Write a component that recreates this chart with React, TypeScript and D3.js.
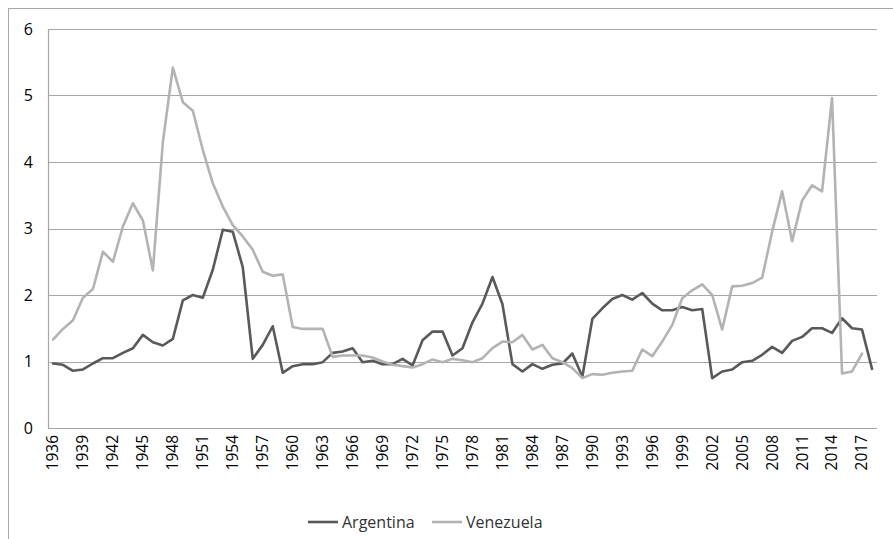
import React from "react";
import * as d3 from "d3";

const years: number[] = d3.range(1936, 2019);

const argentina: number[] = [
  0.97, 0.95, 0.86, 0.88, 0.97, 1.05, 1.05, 1.13, 1.2, 1.4,
  1.29, 1.24, 1.34, 1.92, 2.0, 1.96, 2.38, 2.98, 2.95, 2.42,
  1.04, 1.25, 1.53, 0.83, 0.93, 0.96, 0.96, 0.99, 1.13, 1.15,
  1.2, 0.99, 1.01, 0.96, 0.96, 1.04, 0.94, 1.32, 1.45, 1.45,
  1.09, 1.2, 1.59, 1.87, 2.27, 1.86, 0.96, 0.85, 0.96, 0.89,
  0.95, 0.97, 1.12, 0.77, 1.64, 1.8, 1.94, 2.0, 1.93, 2.03,
  1.87, 1.77, 1.77, 1.82, 1.77, 1.79, 0.75, 0.85, 0.88, 0.99,
  1.01, 1.1, 1.22, 1.13, 1.31, 1.37, 1.5, 1.5, 1.43, 1.65,
  1.5, 1.48, 0.89,
];

const venezuela: (number | null)[] = [
  1.33, 1.49, 1.62, 1.96, 2.09, 2.65, 2.5, 3.03, 3.38, 3.12,
  2.37, 4.3, 5.42, 4.9, 4.77, 4.18, 3.68, 3.33, 3.05, 2.88,
  2.68, 2.35, 2.29, 2.31, 1.52, 1.49, 1.49, 1.49, 1.07, 1.09,
  1.09, 1.09, 1.06, 1.0, 0.95, 0.93, 0.91, 0.96, 1.03, 0.99,
  1.04, 1.02, 0.99, 1.05, 1.2, 1.3, 1.29, 1.4, 1.18, 1.25,
  1.05, 0.99, 0.9, 0.75, 0.81, 0.8, 0.83, 0.85, 0.86, 1.18,
  1.08, 1.3, 1.55, 1.95, 2.07, 2.16, 2.0, 1.48, 2.13, 2.14,
  2.18, 2.26, 2.95, 3.56, 2.81, 3.42, 3.65, 3.56, 4.96, 0.82,
  0.85, 1.12, null,
];

const yTicks: number[] = [0, 1, 2, 3, 4, 5, 6];
const xTickYears: number[] = d3.range(1936, 2019, 3);

const seriesNames = ["Argentina", "Venezuela"];
const seriesColors = ["#595959", "#b3b3b3"];

const W = 893;
const H = 539;
const left = 48;
const right = 877;
const top = 29;
const bottom = 428;
const FONT = "'Open Sans', 'DejaVu Sans', sans-serif";

export default function App() {
  const x = d3
    .scaleBand<number>()
    .domain(years)
    .range([left, right]);
  const y = d3.scaleLinear().domain([0, 6]).range([bottom, top]);
  const cx = (yr: number) => (x(yr) as number) + x.bandwidth() / 2;

  const line = d3
    .line<number | null>()
    .defined((d) => d !== null)
    .x((_, i) => cx(years[i]))
    .y((d) => y(d as number));

  const data = [argentina, venezuela];

  return (
    <svg
      width={W}
      height={H}
      style={{ position: "absolute", left: 0, top: 0, background: "#fff" }}
    >
      <rect x={8.5} y={8.5} width={W} height={H} fill="#fff" stroke="#a6a6a6" strokeWidth={1} />
      {yTicks.map((t) => (
        <g key={t}>
          <line
            x1={left}
            x2={right}
            y1={Math.round(y(t)) + 0.5}
            y2={Math.round(y(t)) + 0.5}
            stroke="#a6a6a6"
            strokeWidth={1.2}
          />
          <text
            x={33}
            y={y(t)}
            dy="0.35em"
            textAnchor="end"
            fontFamily={FONT}
            fontSize={16}
            fill="#000"
          >
            {t}
          </text>
        </g>
      ))}
      <line x1={left + 0.5} x2={left + 0.5} y1={top} y2={bottom} stroke="#a6a6a6" strokeWidth={1.2} />
      {xTickYears.map((yr) => (
        <text
          key={yr}
          transform={`translate(${cx(yr)},${bottom + 7}) rotate(-90)`}
          textAnchor="end"
          dy="0.35em"
          fontFamily={FONT}
          fontSize={15.5}
          fill="#000"
        >
          {yr}
        </text>
      ))}
      {data.map((s, i) => (
        <path
          key={i}
          d={line(s) || ""}
          fill="none"
          stroke={seriesColors[i]}
          strokeWidth={2.6}
          strokeLinejoin="round"
          strokeLinecap="round"
        />
      ))}
      <g fontFamily={FONT} fontSize={16} fill="#333">
        <line x1={308} x2={338} y1={522} y2={522} stroke={seriesColors[0]} strokeWidth={2.6} />
        <text x={342} y={522} dy="0.35em">{seriesNames[0]}</text>
        <line x1={432} x2={462} y1={522} y2={522} stroke={seriesColors[1]} strokeWidth={2.6} />
        <text x={466} y={522} dy="0.35em">{seriesNames[1]}</text>
      </g>
    </svg>
  );
}
